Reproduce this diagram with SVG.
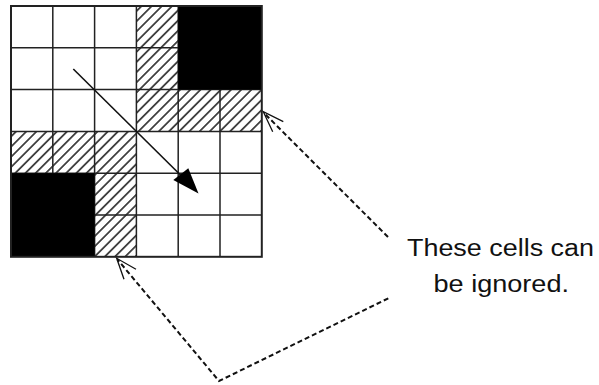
<svg xmlns="http://www.w3.org/2000/svg" width="599" height="385" viewBox="0 0 599 385">
  <style>
    .cell { fill: #fff; }
    .blk { fill: #000; }
    .hat { fill: url(#hatch); }
    .grid { stroke: #222; stroke-width: 1.5; fill: none; }
    .border { stroke: #222; stroke-width: 2; fill: none; }
    .dash { stroke: #111; stroke-width: 2; fill: none; stroke-dasharray: 5 3; }
    .wing { stroke: #111; stroke-width: 1.3; fill: none; }
    .label { font-family: "Liberation Sans", Arial, sans-serif; font-size: 23px; fill: #111; }
  </style>
  <defs>
    <pattern id="hatch" patternUnits="userSpaceOnUse" width="7.2" height="7.2" patternTransform="rotate(45)">
      <rect width="7.2" height="7.2" fill="#fff"/>
      <line x1="3.6" y1="0" x2="3.6" y2="7.2" stroke="#1a1a1a" stroke-width="1.5"/>
    </pattern>
  </defs>
  <rect width="599" height="385" fill="#fff"/>

  <g id="grid">
    <rect x="11" y="6" width="250.8" height="250.8" class="cell"/>
    <!-- hatched cells -->
    <rect x="136.4" y="6" width="41.8" height="83.6" class="hat"/>
    <rect x="136.4" y="89.6" width="125.4" height="41.8" class="hat"/>
    <rect x="11" y="131.4" width="125.4" height="41.8" class="hat"/>
    <rect x="94.6" y="173.2" width="41.8" height="83.6" class="hat"/>
    <!-- grid lines -->
    <path class="grid" d="M52.8,6V256.8 M94.6,6V256.8 M136.4,6V256.8 M178.2,6V256.8 M220,6V256.8 M11,47.8H261.8 M11,89.6H261.8 M11,131.4H261.8 M11,173.2H261.8 M11,215H261.8"/>
    <!-- black blocks -->
    <rect x="178.2" y="6" width="83.6" height="83.6" class="blk"/>
    <rect x="11" y="173.2" width="83.6" height="83.6" class="blk"/>
    <rect x="11" y="6" width="250.8" height="250.8" class="border"/>
  </g>

  <g id="direction-arrow">
    <line x1="73.3" y1="69" x2="183" y2="177.5" stroke="#111" stroke-width="1.6"/>
    <polygon points="198.5,193.5 173.3,180 188.3,168.3" fill="#000"/>
  </g>

  <g id="label">
    <text class="label" x="407" y="256" textLength="187" lengthAdjust="spacingAndGlyphs">These cells can</text>
    <text class="label" x="433.5" y="292" textLength="135.5" lengthAdjust="spacingAndGlyphs">be ignored.</text>
  </g>

  <g id="connectors">
    <path class="dash" d="M388,237 L264,113"/>
    <path class="wing" d="M283.3,121.7 L263.3,111.7 L272.7,131.7"/>
    <path class="dash" d="M388.3,298.3 L219,381 L117.5,259.5"/>
    <path class="wing" d="M136,269.3 L116.7,258.3 L124,279.3"/>
  </g>
</svg>
